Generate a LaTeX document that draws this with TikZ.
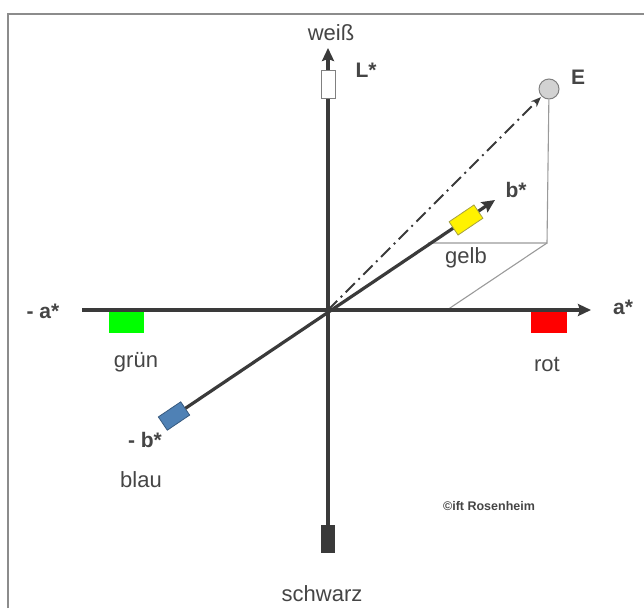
\documentclass[tikz,border=0pt]{standalone}
\usepackage{fontspec}
\setmainfont{Liberation Sans}
\usetikzlibrary{arrows.meta}
\definecolor{axisc}{HTML}{3A3A3A}
\definecolor{txt}{HTML}{454545}
\definecolor{thinc}{HTML}{9A9A9A}
\definecolor{bluebox}{HTML}{4F81B5}
\definecolor{framec}{HTML}{8C8C8C}
\begin{document}
\begin{tikzpicture}[x=1pt,y=-1pt,
  axisline/.style={draw=axisc, line width=3.6pt, -{Stealth[length=13pt,width=12pt,inset=2pt]}},
  thinline/.style={draw=thinc, line width=1.1pt},
  dashline/.style={draw=axisc, line width=1.8pt, dash pattern=on 13pt off 5pt on 2pt off 5pt, -{Stealth[length=10pt,width=8pt]}},
  lbl/.style={text=txt, font=\fontsize{22}{26}\selectfont, inner sep=0pt},
  blbl/.style={text=txt, font=\fontsize{21}{25}\selectfont\bfseries, inner sep=0pt},
  cbox/.style={inner sep=0pt, line width=0.8pt}]
\useasboundingbox (0,0) rectangle (644,608);
% frame
\draw[framec, line width=1.6pt] (8,608) -- (8,14) -- (644,14);
% coordinates
\coordinate (O) at (328,310);
\coordinate (Ltip) at (328,48);
\coordinate (aleft) at (82,310);
\coordinate (atip) at (591,310);
\coordinate (btip) at (495,200);
\coordinate (P) at (547,243);
\coordinate (Pb) at (428,243);
\coordinate (Pa) at (447,310);
% E point
\node[circle, fill=gray!35, draw=gray, line width=1pt, minimum size=20pt, inner sep=0pt] (E) at (549,89) {};
% thin projection lines
\draw[thinline] (E) -- (P) -- (Pb);
\draw[thinline] (P) -- (Pa);
% dash-dot vector
\draw[dashline, shorten >=1pt] (O) -- (E);
% boxes on axes (needed for anchors)
\node[cbox, fill=axisc, minimum width=14pt, minimum height=28pt] (kbox) at (328,539) {};
\node[cbox, fill=bluebox, draw=bluebox!70!black, minimum width=27pt, minimum height=16pt, rotate=34] (bbox) at (174,416) {};
% axes
\draw[axisline] (kbox.north) -- (Ltip);
\draw[axisline] (aleft) -- (atip);
\draw[axisline, line width=3.2pt] (bbox.east) -- (btip);
% boxes over axes
\node[cbox, fill=white, draw=gray, minimum width=14pt, minimum height=28pt] (wbox) at (328,84) {};
\node[cbox, fill=green, minimum width=35pt, minimum height=21pt] (gbox) at (126,322) {};
\node[cbox, fill=red, minimum width=36pt, minimum height=21pt] (rbox) at (549,322) {};
\node[cbox, fill=yellow, draw=yellow!60!black, minimum width=30pt, minimum height=16pt, rotate=34] (ybox) at (466,220) {};
% labels
\node[lbl] (tweiss) at (331,33) {weiß};
\node[blbl] (tL) at (366,70) {L*};
\node[blbl] (tE) at (578,77) {E};
\node[blbl] (tb) at (516,190) {b*};
\node[lbl] (tgelb) at (466,258) {gelb};
\node[blbl] (ta) at (623,307) {a*};
\node[blbl] (tma) at (43,311) {- a*};
\node[lbl] (tgruen) at (136,362) {grün};
\node[lbl] (trot) at (547,364) {rot};
\node[blbl] (tmb) at (145,440) {- b*};
\node[lbl] (tblau) at (141,480) {blau};
\node[text=txt, font=\fontsize{12.5}{15}\selectfont\bfseries, inner sep=0pt] (tift) at (489,506) {©ift Rosenheim};
\node[lbl] (tschwarz) at (322,594) {schwarz};
\end{tikzpicture}
\end{document}
